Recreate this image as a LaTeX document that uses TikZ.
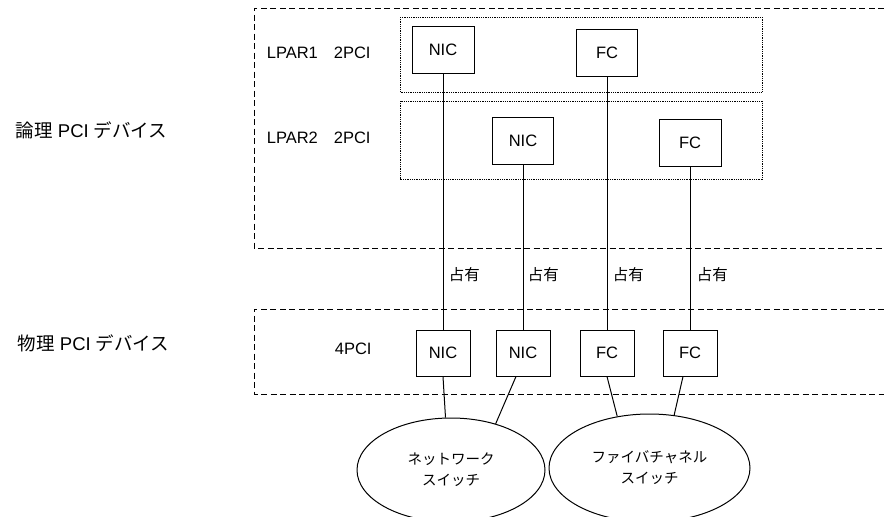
\documentclass[tikz,border=0pt]{standalone}
\usepackage{fontspec}
\setmainfont{Liberation Sans}
\newfontfamily\jp{Noto Sans CJK JP}
\usetikzlibrary{shapes.geometric}

\begin{document}
\begin{tikzpicture}[x=1pt,y=-1pt,line width=1pt,
        font=\fontsize{16.5}{19}\selectfont,
        card/.style={draw,inner sep=0pt,minimum height=47pt},
        grp/.style={dash pattern=on 6pt off 3.5pt},
        lpar/.style={draw,line width=0.8pt,dash pattern=on 1pt off 0.8pt},
        sw/.style={draw,ellipse,inner sep=0pt,align=center,
            font=\fontsize{14.5}{21}\selectfont\jp},
        side/.style={anchor=west,font=\fontsize{18.5}{21}\selectfont},
        own/.style={anchor=west,font=\fontsize{15.5}{17}\selectfont\jp}]
            \useasboundingbox (0,0) rectangle (884,517);

            \draw[grp] (884,8) -- (254,8) -- (254,248) -- (884,248);
            \draw[grp] (884,309) -- (254,309) -- (254,394) -- (884,394);
            \draw[lpar] (400,17) rectangle (762,92);
            \draw[lpar] (400,101) rectangle (762,179);

            \node[side] (logic) at (12,130) {{\jp 論理} PCI {\jp デバイス}};
            \node[side] (phys) at (14,343) {{\jp 物理} PCI {\jp デバイス}};
            \node[anchor=west] (lparA) at (263,53) {LPAR1\hspace{16pt}2PCI};
            \node[anchor=west] (lparB) at (263,138) {LPAR2\hspace{16pt}2PCI};
            \node[anchor=west] (total) at (331,349) {4PCI};

            \node[card,minimum width=62pt] (lnicA) at (443,49.5) {NIC};
            \node[card,minimum width=61pt] (lfcA) at (607,52.5) {FC};
            \node[card,minimum width=61pt] (lnicB) at (523,141) {NIC};
            \node[card,minimum width=62pt] (lfcB) at (690,142.5) {FC};

            \node[card,minimum width=54pt,minimum height=46pt] (pnicA) at (443,353) {NIC};
            \node[card,minimum width=54pt,minimum height=46pt] (pnicB) at (523,353) {NIC};
            \node[card,minimum width=54pt,minimum height=46pt] (pfcA) at (607,353) {FC};
            \node[card,minimum width=54pt,minimum height=46pt] (pfcB) at (690,353) {FC};

            \node[sw,minimum width=188pt,minimum height=104pt] (net) at (451,470) {ネットワーク\\スイッチ};
            \node[sw,minimum width=201pt,minimum height=108pt] (fcsw) at (649.5,468) {ファイバチャネル\\スイッチ};

            \draw (lnicA) -- (pnicA);
            \draw (lnicB) -- (pnicB);
            \draw (lfcA) -- (pfcA);
            \draw (lfcB) -- (pfcB);

            \node[own] (ownA) at (445,275) {占有};
            \node[own] (ownB) at (524,275) {占有};
            \node[own] (ownC) at (609,275) {占有};
            \node[own] (ownD) at (693,275) {占有};

            \draw (pnicA.south) -- (net.96);
            \draw ([xshift=-7pt]pnicB.south) -- (net.46);
            \draw (pfcA.south) -- (fcsw.122);
            \draw ([xshift=-7pt]pfcB.south) -- (fcsw.65);
        \end{tikzpicture}
\end{document}
